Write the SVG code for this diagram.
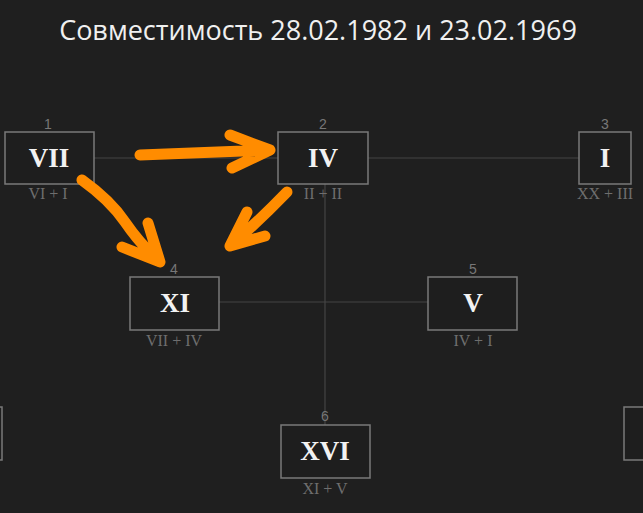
<svg xmlns="http://www.w3.org/2000/svg" width="643" height="513" viewBox="0 0 643 513">
<style>
.box{fill:#1e1e1e;stroke:#7a7a7a;stroke-width:1.5}
.rn{font-family:"Liberation Serif",serif;font-size:27px;fill:#f2f2f2;text-anchor:middle;font-weight:bold}
.num{font-family:"Liberation Sans",sans-serif;font-size:14px;fill:#777;text-anchor:middle}
.sub{font-family:"Liberation Serif",serif;font-size:16px;fill:#6e6e6e;text-anchor:middle}
.ln{stroke:#444;stroke-width:1.2;fill:none}
.ar{stroke:#ff8c00;stroke-width:11;fill:none;stroke-linecap:round;stroke-linejoin:round}
</style>
<rect width="643" height="513" fill="#1f1f1f"/>
<text x="318" y="40" font-family="Open Sans,sans-serif" font-size="27" fill="#f0f0f0" text-anchor="middle">Совместимость 28.02.1982 и 23.02.1969</text>
<g id="connectors">
<path class="ln" d="M94 158H278M368 158H579M219 302H428M325 184V425"/>
</g>
<g id="n1"><rect class="box" x="5" y="132" width="89" height="52"/><text class="rn" x="49" y="167">VII</text><text class="num" x="48" y="129">1</text><text class="sub" x="48" y="199">VI + I</text></g>
<g id="n2"><rect class="box" x="278" y="132" width="90" height="52"/><text class="rn" x="323" y="167">IV</text><text class="num" x="323" y="129">2</text><text class="sub" x="323" y="199">II + II</text></g>
<g id="n3"><rect class="box" x="579" y="132" width="52" height="52"/><text class="rn" x="605" y="167">I</text><text class="num" x="605" y="129">3</text><text class="sub" x="605" y="199">XX + III</text></g>
<g id="n4"><rect class="box" x="130" y="277" width="89" height="53"/><text class="rn" x="175" y="312">XI</text><text class="num" x="174" y="274">4</text><text class="sub" x="174" y="346">VII + IV</text></g>
<g id="n5"><rect class="box" x="428" y="277" width="89" height="53"/><text class="rn" x="473" y="312">V</text><text class="num" x="473" y="274">5</text><text class="sub" x="473" y="346">IV + I</text></g>
<g id="n6"><rect class="box" x="281" y="425" width="89" height="53"/><text class="rn" x="325" y="460">XVI</text><text class="num" x="325" y="421">6</text><text class="sub" x="325" y="494">XI + V</text></g>
<g id="n7"><rect class="box" x="-60" y="407" width="62" height="53"/></g>
<g id="n8"><rect class="box" x="624" y="407" width="60" height="53"/></g>
<g id="arrows">
<path class="ar" d="M140 155L270 150M230 135L270 150L232 168"/>
<path class="ar" d="M82 180Q110 200 125 222T160 262M148 223L160 262L122 247"/>
<path class="ar" d="M287 192Q260 220 230 246M247 212L230 246L265 236"/>
</g>
</svg>
